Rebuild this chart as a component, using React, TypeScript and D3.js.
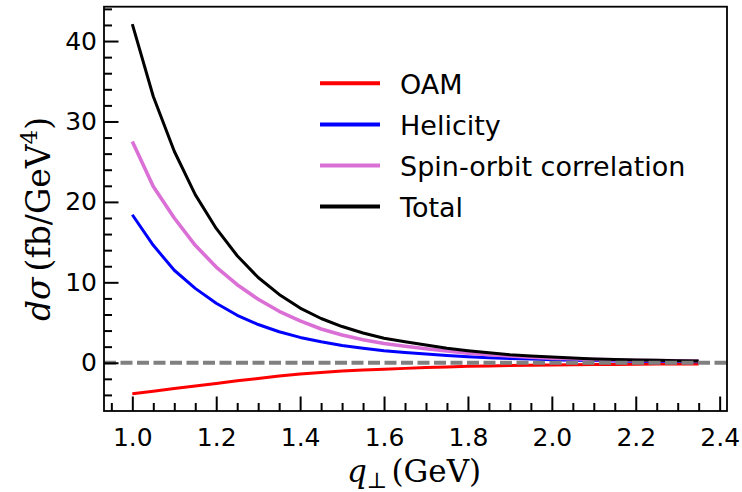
import React, { useRef, useEffect } from 'react';
import * as d3 from 'd3';

// q_perp values (GeV) at which the curves are sampled
const qPerp = [1.0, 1.05, 1.1, 1.15, 1.2, 1.25, 1.3, 1.35, 1.4, 1.45, 1.5, 1.55, 1.6, 1.65,
  1.7, 1.75, 1.8, 1.85, 1.9, 1.95, 2.0, 2.05, 2.1, 2.15, 2.2, 2.25, 2.3, 2.35];

// dsigma (fb/GeV^4)
const oam = [-3.85, -3.55, -3.2, -2.88, -2.57, -2.25, -1.95, -1.65, -1.4, -1.2, -1.02, -0.9,
  -0.8, -0.7, -0.6, -0.52, -0.45, -0.4, -0.35, -0.31, -0.28, -0.25, -0.23, -0.21, -0.19,
  -0.17, -0.16, -0.15];
const helicity = [18.4, 14.6, 11.5, 9.25, 7.4, 5.9, 4.75, 3.85, 3.15, 2.6, 2.15, 1.8, 1.5,
  1.27, 1.08, 0.9, 0.76, 0.63, 0.53, 0.45, 0.38, 0.32, 0.27, 0.23, 0.2, 0.17, 0.15, 0.13];
const spinOrbit = [27.5, 21.9, 18.0, 14.6, 11.9, 9.7, 7.9, 6.4, 5.2, 4.2, 3.45, 2.85, 2.4,
  2.05, 1.75, 1.45, 1.2, 1.0, 0.83, 0.7, 0.58, 0.49, 0.42, 0.36, 0.31, 0.27, 0.24, 0.21];
const total = [42.1, 33.1, 26.3, 20.9, 16.7, 13.3, 10.6, 8.5, 6.8, 5.5, 4.5, 3.7, 3.05, 2.6,
  2.2, 1.8, 1.5, 1.25, 1.0, 0.85, 0.7, 0.58, 0.48, 0.4, 0.34, 0.3, 0.26, 0.22];

const seriesNames = ['OAM', 'Helicity', 'Spin-orbit correlation', 'Total'];
const seriesValues = [oam, helicity, spinOrbit, total];
const seriesColors = ['#ff0000', '#0000ff', '#da70d6', '#000000'];

const xTicks = [1.0, 1.2, 1.4, 1.6, 1.8, 2.0, 2.2, 2.4];
const yTicks = [0, 10, 20, 30, 40];

export default function App() {
  const svgRef = useRef(null);
  const width = 742;
  const height = 492;
  const left = 104, right = 727, top = 6.7, bottom = 411;

  useEffect(() => {
    const svg = d3.select(svgRef.current);
    svg.selectAll('*').remove();

    const x = d3.scaleLinear().domain([0.9325, 2.4175]).range([left, right]);
    const y = d3.scaleLinear().domain([-6.0, 44.27]).range([bottom, top]);

    // curves
    const line = d3.line<number>()
      .x((d, i) => x(qPerp[i]))
      .y(d => y(d));
    seriesValues.forEach((vals, k) => {
      svg.append('path')
        .attr('d', line(vals))
        .attr('fill', 'none')
        .attr('stroke', seriesColors[k])
        .attr('stroke-width', k === 2 ? 3.6 : 3)
        .attr('stroke-linejoin', 'round');
    });

    // dashed zero line on top
    svg.append('line')
      .attr('x1', left).attr('x2', right)
      .attr('y1', y(0)).attr('y2', y(0))
      .attr('stroke', '#808080')
      .attr('stroke-width', 4)
      .attr('stroke-dasharray', '12 4.5');

    const styleTicks = (g, size) => {
      g.select('.domain').remove();
      g.selectAll('.tick line').attr('stroke', '#000').attr('stroke-width', 2);
      g.selectAll('.tick text')
        .attr('fill', '#000')
        .attr('font-family', 'DejaVu Sans, sans-serif')
        .attr('font-size', size);
    };

    // x axis: minor then major ticks, pointing inward
    const xMinor = d3.range(0.95, 2.41, 0.05).filter(v => !xTicks.some(t => Math.abs(t - v) < 1e-6));
    svg.append('g')
      .attr('transform', `translate(0,${bottom})`)
      .call(d3.axisBottom(x).tickValues(xMinor).tickSize(-8).tickFormat(() => ''))
      .call(g => styleTicks(g, 25));
    svg.append('g')
      .attr('transform', `translate(0,${bottom})`)
      .call(d3.axisBottom(x).tickValues(xTicks).tickSize(-14.5).tickPadding(17.5).tickFormat(d3.format('.1f')))
      .call(g => styleTicks(g, 25));

    // y axis
    const yMinor = d3.range(-4, 45, 2).filter(v => v % 10 !== 0);
    svg.append('g')
      .attr('transform', `translate(${left},0)`)
      .call(d3.axisLeft(y).tickValues(yMinor).tickSize(-8).tickFormat(() => ''))
      .call(g => styleTicks(g, 25));
    svg.append('g')
      .attr('transform', `translate(${left},0)`)
      .call(d3.axisLeft(y).tickValues(yTicks).tickSize(-14.5).tickPadding(7).tickFormat(d3.format('d')))
      .call(g => styleTicks(g, 25));

    // frame
    svg.append('rect')
      .attr('x', left).attr('y', top)
      .attr('width', right - left).attr('height', bottom - top)
      .attr('fill', 'none')
      .attr('stroke', '#000')
      .attr('stroke-width', 1.8);

    // legend
    const legend = svg.append('g');
    seriesNames.forEach((name, k) => {
      const ly = 83.3 + k * 41.1;
      legend.append('line')
        .attr('x1', 320).attr('x2', 380)
        .attr('y1', ly).attr('y2', ly)
        .attr('stroke', seriesColors[k])
        .attr('stroke-width', 4);
      legend.append('text')
        .attr('x', 400).attr('y', ly + 10.5)
        .attr('font-family', 'DejaVu Sans, sans-serif')
        .attr('font-size', 27)
        .attr('fill', '#000')
        .text(name);
    });

    // axis labels
    const xl = svg.append('text')
      .attr('x', 414).attr('y', 481.5)
      .attr('text-anchor', 'middle')
      .attr('font-family', 'DejaVu Serif, serif')
      .attr('font-size', 31)
      .attr('fill', '#000');
    xl.append('tspan').attr('font-style', 'italic').text('q');
    xl.append('tspan').attr('font-size', 22).attr('dy', 6).text('⊥');
    xl.append('tspan').attr('dy', -6).attr('dx', 4).text('(GeV)');

    const yl = svg.append('text')
      .attr('transform', 'translate(50,219) rotate(-90)')
      .attr('text-anchor', 'middle')
      .attr('font-family', 'DejaVu Serif, serif')
      .attr('font-size', 33)
      .attr('fill', '#000');
    yl.append('tspan').attr('font-style', 'italic').text('dσ');
    yl.append('tspan').attr('dx', 6).text('(fb/GeV');
    yl.append('tspan').attr('font-size', 23).attr('dy', -13).text('4');
    yl.append('tspan').attr('dy', 13).text(')');
  }, []);

  return (
    <svg ref={svgRef} width={width} height={height}
      style={{ position: 'absolute', left: 0, top: 0, background: '#fff' }} />
  );
}
